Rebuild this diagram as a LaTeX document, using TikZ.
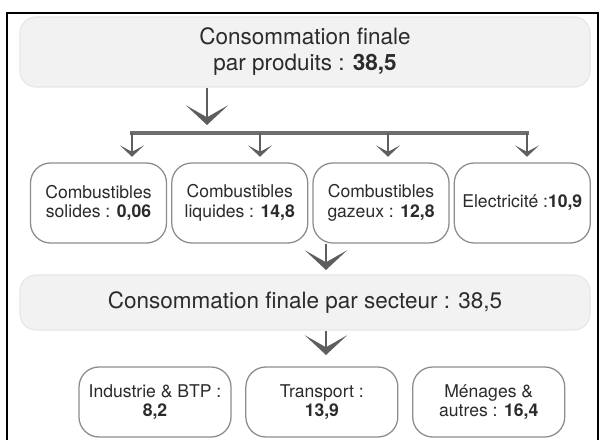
\documentclass[tikz,border=0pt]{standalone}
\usepackage{fontspec}
\setmainfont{TeX Gyre Heros}
\usetikzlibrary{positioning,arrows.meta}

\definecolor{txtgray}{HTML}{2B2B2B}
\definecolor{arrgray}{HTML}{5E5E5E}
\definecolor{bandfill}{HTML}{F2F2F2}
\definecolor{bandline}{HTML}{E6E6E6}
\definecolor{boxline}{HTML}{8C8C8C}

\tikzset{
	band/.style={rounded corners=0.4cm, fill=bandfill, draw=bandline, line width=0.8pt,
		minimum width=14.25cm, align=center, text=txtgray,
		font=\fontsize{16}{18.5}\selectfont},
	item/.style={rounded corners=0.5cm, draw=boxline, line width=0.9pt, fill=white,
		minimum width=3.4cm, minimum height=2cm, inner sep=1pt, align=center,
		text=txtgray, font=\fontsize{12.5}{14}\selectfont},
	chev/.style={draw=arrgray, line width=1.6pt, -{Stealth[width=30pt,length=14pt,inset=8.5pt]}},
	tick/.style={draw=arrgray, line width=1.6pt, shorten >=4pt, -{Stealth[width=17pt,length=8pt,inset=4.5pt]}},
	bar/.style={draw=arrgray!90!white, line width=2.8pt, line cap=rect},
}

\begin{document}
\begin{tikzpicture}
	\useasboundingbox (0,0) rectangle (15,11);
	\draw[line width=1.3pt] (0.175,-0.2) -- (0.175,10.675) -- (14.95,10.675) -- (14.95,-0.2);

	% produits
	\node[band, minimum height=1.75cm] (prod) at (7.625,9.7)
		{Consommation finale\\ par produits : \textbf{38,5}};

	\node[item] (c1) at (2.4625,5.925) {Combustibles\\ solides : \textbf{0,06}};
	\node[item, right=0.1cm of c1] (c2) {Combustibles\\ liquides : \textbf{14,8}};
	\node[item, right=0.1cm of c2] (c3) {Combustibles\\ gazeux : \textbf{12,8}};
	\node[item, right=0.1cm of c3] (c4) {Electricité :\textbf{10,9}};

	\coordinate (tip1) at (5.175,7.875);
	\draw[chev] (prod.south -| tip1) -- (tip1);

	\coordinate (d1) at (3.3,7.675);
	\coordinate (d2) at (6.5,7.675);
	\coordinate (d3) at (9.7,7.675);
	\coordinate (d4) at (13.175,7.675);
	\draw[bar] (d1) -- (d4);
	\foreach \d in {d1,d2,d3,d4}
		\draw[tick] (\d) -- (\d |- c1.north);

	% secteurs
	\node[band, minimum height=1.375cm] (sect) at (7.625,3.4375)
		{Consommation finale par secteur : 38,5};

	\coordinate (tip2) at (8.15,4.25);
	\draw[chev] (c3.south -| tip2) -- (tip2);

	\node[item, minimum width=3.8cm, minimum height=1.75cm] (s1) at (3.875,0.95)
		{Industrie \& BTP :\\ \textbf{8,2}};
	\node[item, minimum width=3.8cm, minimum height=1.75cm, right=0.34cm of s1] (s2)
		{Transport :\\ \textbf{13,9}};
	\node[item, minimum width=3.8cm, minimum height=1.75cm, right=0.34cm of s2] (s3)
		{Ménages \&\\ autres : \textbf{16,4}};

	\coordinate (tip3) at (8.15,2.125);
	\draw[chev] (sect.south -| tip3) -- (tip3);
\end{tikzpicture}
\end{document}
